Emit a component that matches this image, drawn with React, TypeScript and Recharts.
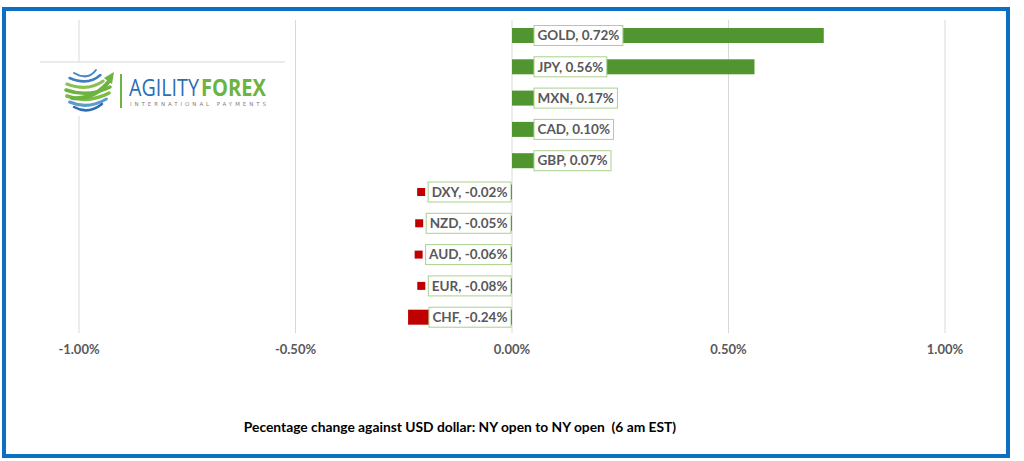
import React from "react";
import { BarChart, Bar, XAxis, YAxis, CartesianGrid } from "recharts";

// currencies top to bottom, % change vs USD (NY open to NY open)
const currencies = ["GOLD", "JPY", "MXN", "CAD", "GBP", "DXY", "NZD", "AUD", "EUR", "CHF"];
const changes = [0.72, 0.56, 0.17, 0.1, 0.07, -0.02, -0.05, -0.06, -0.08, -0.24];
const xTicks = [-1, -0.5, 0, 0.5, 1];
const caption = "Pecentage change against USD dollar: NY open to NY open  (6 am EST)";

const data = currencies.map((name, i) => ({ name, change: changes[i] }));

const GREEN = "#509530";
const RED = "#C00000";
const LABEL_FONT = "bold 13.5px Lato";

let ctx: CanvasRenderingContext2D | null = null;
function textWidth(t: string, font: string) {
  if (!ctx) ctx = document.createElement("canvas").getContext("2d");
  if (!ctx) return t.length * 7;
  ctx.font = font;
  return ctx.measureText(t).width;
}

// bar + excel-style data label (legend key + boxed text at the bar base)
function BarWithLabel(props: any) {
  const { x, y, width, height, index } = props;
  const v = changes[index];
  const name = currencies[index];
  const color = v >= 0 ? GREEN : RED;
  const left = Math.min(x, x + width);
  const right = Math.max(x, x + width);
  const w = right - left;
  const cy = y + height / 2;
  const text = `${name}, ${v.toFixed(2)}%`;
  const boxW = textWidth(text, LABEL_FONT) + 7;
  const boxH = 20;
  let boxX: number, keyX: number;
  if (v >= 0) {
    keyX = left + 11;
    boxX = left + 22;
  } else {
    boxX = right - 1 - boxW;
    keyX = boxX - 11;
  }
  return (
    <g>
      <rect x={left} y={y} width={w} height={height} fill={color} />
      <rect x={keyX} y={cy - 4} width={8} height={8} fill={color} />
      <rect x={boxX} y={cy - boxH / 2} width={boxW} height={boxH} fill="#fff" stroke="#A9D18E" strokeWidth={1} />
      <text
        x={boxX + 3.5}
        y={cy + 4.7}
        fontFamily="Lato"
        fontWeight="bold"
        fontSize={13.5}
        fill="#595959"
      >
        {text}
      </text>
    </g>
  );
}

// squeezed logo word so it fits the given width
function LogoWord({ x, y, word, w, bold, fill }: any) {
  const font = `${bold ? "bold " : ""}24px 'Open Sans'`;
  const sx = w / Math.max(1, textWidth(word, font));
  return (
    <g transform={`translate(${x},${y}) scale(${sx},1)`}>
      <text x={0} y={0} fontFamily="Open Sans" fontSize={24} fontWeight={bold ? "bold" : "normal"} fill={fill}>
        {word}
      </text>
    </g>
  );
}

function Logo() {
  const stripes = [
    { dy: -17, c: "#4A86C5", w: 2 },
    { dy: -12, c: "#3D7DC0", w: 2.5 },
    { dy: -6, c: "#8CC152", w: 3 },
    { dy: 0, c: "#6DB33F", w: 3.5 },
    { dy: 6, c: "#7DBB45", w: 3.5 },
    { dy: 12, c: "#5A9BD0", w: 3 },
    { dy: 17, c: "#2F6DB3", w: 2.5 },
  ];
  const cx = 88, cy = 92, r = 22;
  return (
    <g>
      <rect x={40} y={62} width={245} height={54} fill="#fff" />
      <line x1={40} y1={62} x2={285} y2={62} stroke="#E4E4E4" strokeWidth={1.5} />
      {stripes.map((s, i) => {
        const hw = Math.sqrt(r * r - s.dy * s.dy);
        const x1 = cx - hw, x2 = cx + hw - (s.dy < 0 ? 6 : 0);
        const yy = cy + s.dy;
        return (
          <path
            key={i}
            d={`M${x1},${yy - 2} Q${cx},${yy + 6} ${x2},${yy - 5}`}
            fill="none"
            stroke={s.c}
            strokeWidth={s.w}
            strokeLinecap="round"
          />
        );
      })}
      <path d="M72,98 Q95,100 110,80" fill="none" stroke="#6DB33F" strokeWidth={4} strokeLinecap="round" />
      <polygon points="104,78 114,72 112,84" fill="#6DB33F" />
      <line x1={121} y1={74} x2={121} y2={108} stroke="#6DB33F" strokeWidth={2} />
      <LogoWord x={129} y={95.5} word="AGILITY" w={70} fill="#2E6DB4" />
      <LogoWord x={201} y={95.5} word="FOREX" w={65} bold fill="#6DB33F" />
      <text x={130} y={106} fontFamily="DejaVu Sans" fontSize={5.5} fill="#7F7F7F" textLength={136} lengthAdjust="spacing">
        INTERNATIONAL PAYMENTS
      </text>
    </g>
  );
}

export default function App() {
  return (
    <div style={{ position: "absolute", left: 0, top: 0, width: 1024, height: 461, background: "#fff" }}>
      <BarChart
        width={1024}
        height={461}
        data={data}
        layout="vertical"
        margin={{ top: 20, right: 79, bottom: 98, left: 79 }}
      >
        <CartesianGrid horizontal={false} stroke="#D9D9D9" />
        <XAxis
          type="number"
          domain={[-1, 1]}
          ticks={xTicks}
          tickFormatter={(v: number) => `${v.toFixed(2)}%`}
          axisLine={false}
          tickLine={false}
          tickMargin={6}
          tick={{ fill: "#595959", fontSize: 13, fontWeight: "bold", fontFamily: "Lato" }}
        />
        <YAxis type="category" dataKey="name" hide width={0} />
        <Bar dataKey="change" barSize={15} shape={BarWithLabel} isAnimationActive={false} />
      </BarChart>
      <svg width={1024} height={461} style={{ position: "absolute", left: 0, top: 0, pointerEvents: "none" }}>
        <Logo />
        <text
          x={460}
          y={432}
          textAnchor="middle"
          fontFamily="Lato"
          fontWeight="bold"
          fontSize={13.8}
          fill="#000"
          style={{ whiteSpace: "pre" }}
        >
          {caption}
        </text>
      </svg>
      <div
        style={{
          position: "absolute",
          left: 2,
          top: 7,
          width: 1008,
          height: 451,
          boxSizing: "border-box",
          border: "4.5px solid #0B70C4",
          pointerEvents: "none",
        }}
      />
    </div>
  );
}
